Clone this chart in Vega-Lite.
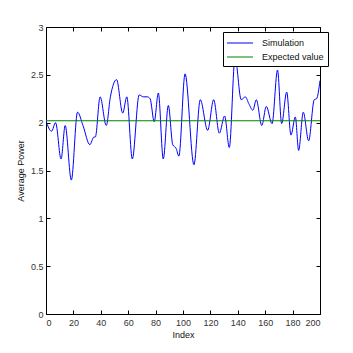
{
  "$schema": "https://vega.github.io/schema/vega-lite/v6.json",
  "width": 274,
  "height": 287,
  "autosize": {"type": "none"},
  "padding": {"left": 46, "top": 27, "right": 33, "bottom": 39},
  "background": "white",
  "config": {
    "view": {"stroke": "black", "strokeWidth": 1},
    "font": "Liberation Sans",
    "axis": {
      "grid": false,
      "domain": false,
      "tickColor": "black",
      "tickSize": -4,
      "labelFontSize": 9,
      "labelColor": "#333",
      "titleFontSize": 9,
      "titleFontWeight": "normal",
      "titleColor": "#111",
      "labelFont": "Liberation Sans",
      "titleFont": "Liberation Sans"
    }
  },
  "datasets": {
    "sim": [
      {"Index": 0, "value": 2.02, "series": "Simulation"},
      {"Index": 4, "value": 1.91, "series": "Simulation"},
      {"Index": 7, "value": 2.0, "series": "Simulation"},
      {"Index": 11, "value": 1.62, "series": "Simulation"},
      {"Index": 14, "value": 1.97, "series": "Simulation"},
      {"Index": 18.5, "value": 1.4, "series": "Simulation"},
      {"Index": 23, "value": 2.11, "series": "Simulation"},
      {"Index": 27, "value": 1.97, "series": "Simulation"},
      {"Index": 32, "value": 1.77, "series": "Simulation"},
      {"Index": 35, "value": 1.85, "series": "Simulation"},
      {"Index": 36, "value": 1.85, "series": "Simulation"},
      {"Index": 39.5, "value": 2.27, "series": "Simulation"},
      {"Index": 44, "value": 1.97, "series": "Simulation"},
      {"Index": 47, "value": 2.27, "series": "Simulation"},
      {"Index": 51.5, "value": 2.45, "series": "Simulation"},
      {"Index": 56, "value": 2.1, "series": "Simulation"},
      {"Index": 59, "value": 2.27, "series": "Simulation"},
      {"Index": 63, "value": 1.62, "series": "Simulation"},
      {"Index": 68, "value": 2.29, "series": "Simulation"},
      {"Index": 71, "value": 2.27, "series": "Simulation"},
      {"Index": 74, "value": 2.27, "series": "Simulation"},
      {"Index": 76, "value": 2.25, "series": "Simulation"},
      {"Index": 79, "value": 2.01, "series": "Simulation"},
      {"Index": 82, "value": 2.31, "series": "Simulation"},
      {"Index": 85.6, "value": 1.62, "series": "Simulation"},
      {"Index": 89.3, "value": 2.18, "series": "Simulation"},
      {"Index": 92.5, "value": 1.77, "series": "Simulation"},
      {"Index": 95, "value": 1.73, "series": "Simulation"},
      {"Index": 97, "value": 1.65, "series": "Simulation"},
      {"Index": 101.5, "value": 2.51, "series": "Simulation"},
      {"Index": 108, "value": 1.56, "series": "Simulation"},
      {"Index": 112.6, "value": 2.24, "series": "Simulation"},
      {"Index": 118, "value": 1.92, "series": "Simulation"},
      {"Index": 122.4, "value": 2.24, "series": "Simulation"},
      {"Index": 126.5, "value": 1.89, "series": "Simulation"},
      {"Index": 130.4, "value": 2.07, "series": "Simulation"},
      {"Index": 133.8, "value": 1.74, "series": "Simulation"},
      {"Index": 138, "value": 2.68, "series": "Simulation"},
      {"Index": 142.5, "value": 2.24, "series": "Simulation"},
      {"Index": 145.5, "value": 2.27, "series": "Simulation"},
      {"Index": 148, "value": 2.2, "series": "Simulation"},
      {"Index": 151, "value": 2.13, "series": "Simulation"},
      {"Index": 153.5, "value": 2.24, "series": "Simulation"},
      {"Index": 157.5, "value": 1.97, "series": "Simulation"},
      {"Index": 160.8, "value": 2.17, "series": "Simulation"},
      {"Index": 165, "value": 1.99, "series": "Simulation"},
      {"Index": 169, "value": 2.55, "series": "Simulation"},
      {"Index": 172, "value": 1.99, "series": "Simulation"},
      {"Index": 175.7, "value": 2.32, "series": "Simulation"},
      {"Index": 178.8, "value": 1.87, "series": "Simulation"},
      {"Index": 182, "value": 2.06, "series": "Simulation"},
      {"Index": 184.4, "value": 1.71, "series": "Simulation"},
      {"Index": 187.8, "value": 2.11, "series": "Simulation"},
      {"Index": 191.7, "value": 1.81, "series": "Simulation"},
      {"Index": 195.8, "value": 2.24, "series": "Simulation"},
      {"Index": 197.5, "value": 2.25, "series": "Simulation"},
      {"Index": 200, "value": 2.44, "series": "Simulation"}
    ],
    "expected": [
      {"Index": 0, "value": 2.02, "series": "Expected value"},
      {"Index": 200, "value": 2.02, "series": "Expected value"}
    ]
  },
  "layer": [
    {
      "data": {"name": "sim"},
      "mark": {"type": "line", "interpolate": "monotone", "strokeWidth": 1, "clip": true},
      "encoding": {
        "x": {
          "field": "Index", "type": "quantitative",
          "scale": {"domain": [0, 200], "nice": false, "zero": false},
          "axis": {"orient": "bottom", "title": "Index", "values": [0, 20, 40, 60, 80, 100, 120, 140, 160, 180, 200], "labelPadding": 8, "titlePadding": 3}
        },
        "y": {
          "field": "value", "type": "quantitative",
          "scale": {"domain": [0, 3], "nice": false, "zero": false},
          "axis": {"orient": "left", "title": "Average Power", "values": [0, 0.5, 1, 1.5, 2, 2.5, 3], "format": ".2~f", "labelPadding": 7, "titlePadding": 5}
        },
        "color": {
          "field": "series", "type": "nominal",
          "scale": {"domain": ["Simulation", "Expected value"], "range": ["#0000ff", "#008000"]},
          "legend": {
            "orient": "none", "legendX": 177, "legendY": 5,
            "title": null,
            "strokeColor": "black", "fillColor": "white",
            "padding": 4, "cornerRadius": 0,
            "symbolType": "M-2,0H2", "symbolSize": 169, "symbolStrokeWidth": 1,
            "symbolOffset": 6, "labelOffset": 15,
            "labelFontSize": 9, "labelColor": "#111", "labelFont": "Liberation Sans",
            "rowPadding": 2, "labelLimit": 200
          }
        }
      }
    },
    {
      "data": {"name": "expected"},
      "mark": {"type": "line", "strokeWidth": 1},
      "encoding": {
        "x": {
          "field": "Index", "type": "quantitative",
          "axis": {"orient": "top", "title": null, "labels": false, "values": [0, 20, 40, 60, 80, 100, 120, 140, 160, 180, 200]}
        },
        "y": {
          "field": "value", "type": "quantitative",
          "axis": {"orient": "right", "title": null, "labels": false, "values": [0, 0.5, 1, 1.5, 2, 2.5, 3]}
        },
        "color": {"field": "series", "type": "nominal"}
      }
    }
  ]
}
